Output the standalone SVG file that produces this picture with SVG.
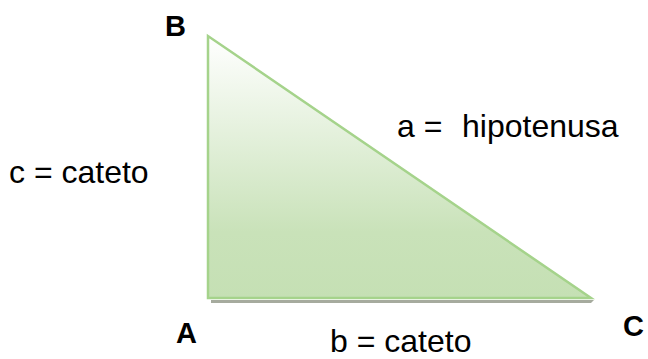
<svg xmlns="http://www.w3.org/2000/svg" width="648" height="359" viewBox="0 0 648 359">
<style>
.lbl{font-family:"Liberation Sans",Arial,sans-serif;font-size:32px;fill:#000}
.pt{font-family:"Liberation Sans",Arial,sans-serif;font-size:29px;font-weight:bold;fill:#000}
</style>
<defs>
<linearGradient id="g" x1="0" y1="0" x2="0" y2="1">
<stop offset="0" stop-color="#ffffff"/>
<stop offset="0.75" stop-color="#c9e2b9"/>
<stop offset="1" stop-color="#c5e0b4"/>
</linearGradient>
</defs>
<g id="shadow"><polygon points="211,300 594,300 591,303 211,303" fill="#a6ab9e"/></g>
<g id="triangle"><polygon points="208,36 208,298 591,298" fill="url(#g)" stroke="#a5d38b" stroke-width="2.5" stroke-linejoin="miter"/></g>
<g id="labels">
<text class="pt" x="165" y="36">B</text>
<text class="pt" x="176" y="343">A</text>
<text class="pt" x="623" y="336">C</text>
<text class="lbl" x="9" y="183">c = cateto</text>
<text class="lbl" x="397" y="137" xml:space="preserve">a =  <tspan x="462">hipotenusa</tspan></text>
<text class="lbl" x="330" y="352">b = cateto</text>
</g>
</svg>
